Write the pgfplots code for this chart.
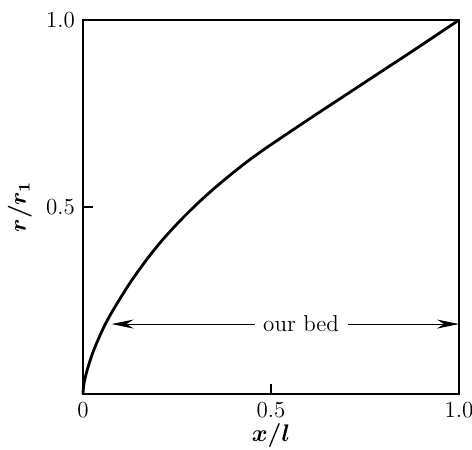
\documentclass[border=0pt]{standalone}
\usepackage{bm}
\usepackage{pgfplots}
\pgfplotsset{compat=1.18}
\usetikzlibrary{arrows.meta}
\tikzset{bedarrow/.style={line width=0.5pt, -{Stealth[length=11pt,width=4.5pt]}}}

\begin{document}
\fontsize{11.5}{14}\selectfont
\begin{tikzpicture}
  % fixed frame round the axis box (188pt x 187pt placed at the origin)
  \path[use as bounding box] (-41.5pt,-28pt) rectangle (194.5pt,197pt);
  \begin{axis}[
    at={(0pt,0pt)}, anchor=south west,
    scale only axis,
    width=188pt, height=187pt,
    xmin=0, xmax=1, ymin=0, ymax=1,
    axis line style={line width=0.8pt},
    xtick={0,0.5,1}, xticklabels={0,0.5,1.0},
    ytick={0.5,1}, yticklabels={0.5,1.0},
    xtick pos=bottom, ytick pos=left,
    tick align=inside,
    major tick length=5pt,
    tick style={line width=0.6pt, black},
    clip=false,
  ]
    % radius profile along the bed
    \addplot[black, line width=1.4pt, smooth] coordinates {
      (0,0) (0.002,0.024) (0.010,0.060) (0.027,0.113) (0.054,0.176)
      (0.081,0.226) (0.125,0.297) (0.169,0.359) (0.214,0.415)
      (0.258,0.463) (0.302,0.507) (0.347,0.548) (0.391,0.585)
      (0.435,0.620) (0.480,0.653) (0.524,0.683) (0.613,0.743)
      (0.701,0.801) (0.790,0.860) (0.878,0.918) (1,1)
    };
    \coordinate (bedL) at (axis cs:0.076,0.187);
    \coordinate (gapL) at (axis cs:0.457,0.187);
    \coordinate (bedM) at (axis cs:0.58,0.187);
    \coordinate (gapR) at (axis cs:0.705,0.187);
    \coordinate (bedR) at (axis cs:1,0.187);
  \end{axis}
  % extent of the bed
  \draw[bedarrow] (gapL) -- (bedL);
  \draw[bedarrow] (gapR) -- (bedR);
  \node at (bedM) {our bed};
  % axis titles
  \node at (94pt,-20.5pt) {$\bm{x/l}$};
  \node[rotate=90] at (-31.5pt,93.5pt) {$\bm{r/r_1}$};
\end{tikzpicture}
\end{document}
